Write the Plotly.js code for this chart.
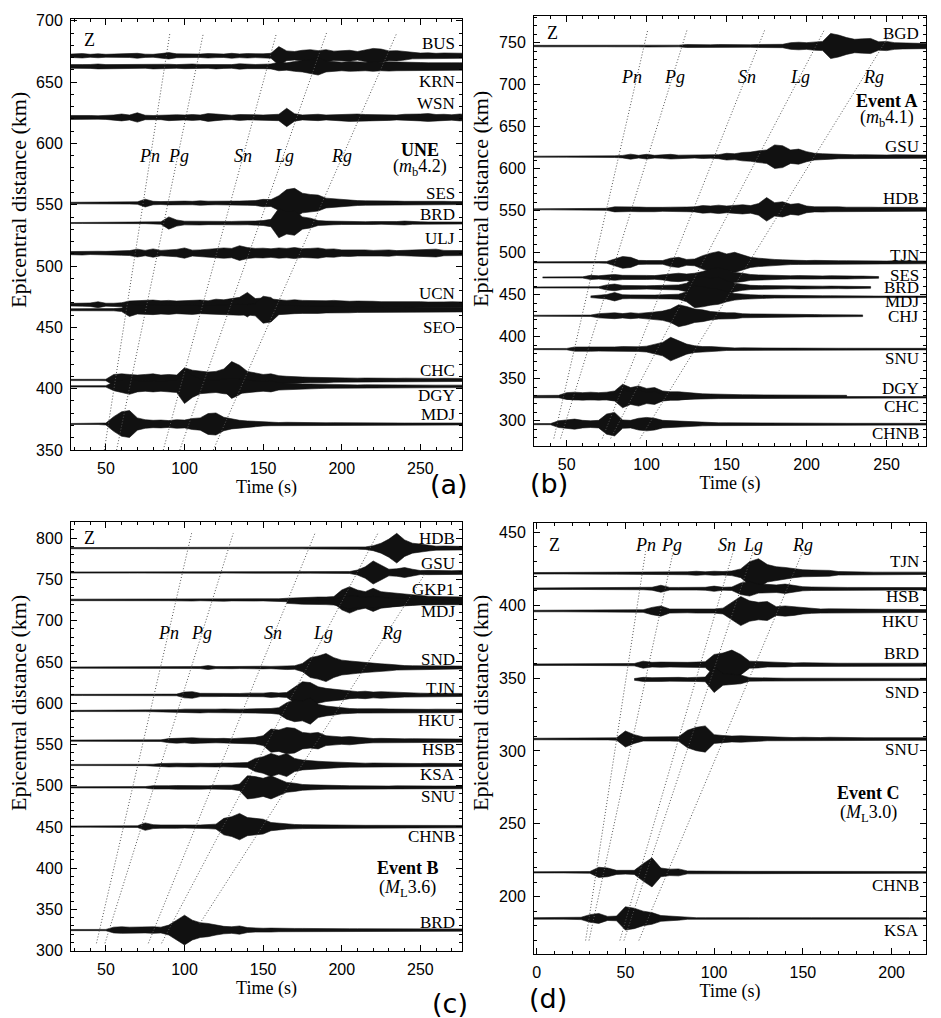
<!DOCTYPE html>
<html>
<head>
<meta charset="utf-8">
<script src="https://cdn.plot.ly/plotly-3.0.1.min.js"></script>
<style>
  body { margin: 0; background: #fff; }
  #plot { width: 941px; height: 1018px; }
</style>
</head>
<body>
<div id="plot"></div>
<script>
// envelopes are half-amplitudes in km, one value every 5 s from the trace start time
const STEP = 5;
const phases = ["Pn", "Pg", "Sn", "Lg", "Rg"];

// ---------- (a) UNE, mb 4.2 ----------
const staA = ["BUS", "KRN", "WSN", "SES", "BRD", "ULJ", "UCN", "SEO", "CHC", "DGY", "MDJ"];
const distA = [671.5, 662.8, 621.2, 551.4, 535.1, 510.6, 468.5, 464.4, 407.1, 401.9, 371.2];
const startA = [25, 25, 25, 25, 25, 25, 25, 25, 25, 25, 25];
const labelA = [681.3, 650.5, 632.3, 559.5, 541.8, 522.8, 478, 450.3, 415, 394.3, 378.8];
const envA_BUS = [1.2,1.5,1.8,1.2,1.6,1.2,1.3,1.2,1.4,2.0, 1.3,1.2,1.8,2.6,1.6,1.5,1.6,1.4,1.8,1.5, 1.4,2.0,1.5,1.8,1.5,1.6,2.0,7.5,4.0,3.5, 4.5,5.0,4.2,5.0,3.8,4.0,4.5,3.5,4.5,6.0, 5.5,4.0,4.2,3.5,2.5,2.2,2.4,2.0,2.3,2.2, 2.0,2.0];
const envA_KRN = [1.5,1.8,1.5,1.6,2.0,1.5,1.6,1.5,1.8,1.6, 1.5,2.0,1.6,1.8,1.5,1.8,2.0,1.6,1.5,2.0, 1.6,1.5,2.2,1.8,1.6,1.8,2.0,3.5,3.0,4.0, 4.5,5.5,7.0,4.5,4.0,3.5,4.0,3.8,3.5,4.0, 3.5,3.8,3.5,3.2,3.0,3.2,3.0,3.2,3.0,3.0, 3.0,3.0];
const envA_WSN = [1.6,1.8,1.5,1.6,1.4,1.6,2.0,2.8,2.0,3.8, 1.8,1.6,1.8,2.6,2.2,2.0,2.4,2.0,3.2,2.8, 2.0,1.8,2.4,2.0,2.2,2.0,2.4,2.6,7.5,3.0, 2.0,2.4,2.6,2.0,2.2,2.8,3.2,2.8,2.4,2.2, 2.6,2.4,2.0,2.6,2.4,2.8,3.2,2.4,2.6,2.2, 2.8,2.4];
const envA_SES = [0.6,0.6,0.7,0.6,0.7,0.6,0.7,0.7,0.8,1.0, 3.2,1.4,1.2,1.5,1.3,1.6,1.4,1.8,1.5,1.4, 1.8,1.5,1.6,1.8,2.0,3.0,2.8,6.0,11.0,12.0, 8.0,7.0,6.5,4.0,3.5,2.6,2.4,2.0,1.8,1.6, 1.8,1.5,1.6,1.4,1.5,1.6,1.4,1.8,1.4,1.3, 1.2,1.2];
const envA_BRD = [0.4,0.4,0.4,0.4,0.4,0.4,0.4,0.4,0.4,0.5, 0.5,0.5,1.0,5.0,2.5,1.5,1.4,1.6,1.3,1.5, 1.4,1.3,1.5,1.4,1.6,2.0,3.0,12.0,9.0,10.0, 5.0,4.0,2.0,1.6,1.4,1.2,1.3,1.2,1.1,1.2, 1.0,1.1,1.2,1.6,1.0,1.0,0.9,0.9,0.8,0.8, 0.8,0.8];
const envA_ULJ = [1.2,1.4,1.6,1.2,1.5,1.4,1.6,1.8,2.0,3.2, 2.2,3.4,2.2,2.6,3.0,4.2,2.4,2.6,3.2,3.8, 4.2,3.8,6.0,4.5,3.8,4.0,3.5,4.2,3.8,4.5, 3.6,3.8,4.2,3.2,3.4,2.6,2.8,2.4,2.6,2.2, 2.4,2.6,2.0,2.2,2.0,2.4,2.8,3.2,2.2,2.0, 2.2,2.0];
const envA_UCN = [1.0,1.0,1.2,1.4,2.4,1.2,1.2,1.6,3.0,3.2, 3.5,3.8,3.2,3.5,3.0,3.2,3.5,3.8,3.2,4.5, 4.0,5.0,6.0,10.0,5.0,5.5,4.5,4.0,3.5,4.0, 3.5,3.2,3.0,3.2,3.5,3.0,2.8,3.0,2.6,2.8, 2.5,2.6,2.5,2.8,2.4,2.5,2.2,2.5,2.3,2.4, 2.2,2.2];
const envA_SEO = [0.8,0.8,0.9,0.8,0.9,0.8,0.9,1.5,5.5,3.5, 3.8,4.0,3.5,3.8,3.2,3.5,3.8,3.2,3.5,4.0, 3.8,4.2,4.5,4.2,5.0,11.0,10.0,4.0,3.5,3.2, 3.0,2.8,3.0,2.6,2.8,2.4,2.5,2.2,2.4,2.2, 2.3,2.0,2.2,2.0,2.2,2.0,2.1,2.0,2.0,1.8, 1.8,1.8];
const envA_CHC = [0.5,0.5,0.5,0.5,0.5,0.6,4.5,5.0,4.5,4.0, 4.5,5.0,4.0,4.5,4.0,10.0,8.0,7.0,6.5,7.0, 9.0,15.0,12.0,7.0,5.5,4.5,5.0,3.5,3.0,2.5, 2.4,2.2,2.0,2.2,1.8,1.6,1.8,1.5,1.6,1.4, 1.5,1.6,1.4,1.5,1.3,1.4,1.5,1.3,1.4,1.2, 1.2,1.2];
const envA_DGY = [0.5,0.5,0.5,0.5,0.5,0.6,3.5,5.0,6.5,4.5, 4.0,4.5,4.0,4.5,5.0,14.0,9.0,6.0,5.5,5.0, 6.0,6.5,6.0,5.0,4.5,4.0,4.5,3.0,2.5,2.2, 2.0,2.0,1.8,1.6,1.5,1.4,1.4,1.2,1.3,1.2, 1.2,1.1,1.2,1.0,1.1,1.0,1.0,1.0,1.0,1.0, 1.0,1.0];
const envA_MDJ = [0.4,0.4,0.4,0.4,0.4,0.8,6.0,10.0,11.0,5.0, 3.5,3.0,3.2,2.8,3.5,3.2,4.5,5.0,8.5,9.0, 5.5,4.0,3.0,2.5,2.2,1.6,1.4,1.2,1.4,1.2, 1.2,1.3,1.0,1.0,1.1,1.0,1.0,0.9,0.9,1.0, 0.9,0.9,0.8,0.8,0.8,0.8,0.8,0.8,0.8,0.8, 0.8,0.8];
const envA = [envA_BUS, envA_KRN, envA_WSN, envA_SES, envA_BRD, envA_ULJ, envA_UCN, envA_SEO, envA_CHC, envA_DGY, envA_MDJ];
const phBotA = [49, 56.8, 86.5, 97, 118.3];
const phTopA = [90.7, 112, 158.5, 190.3, 235];
const phD0A = [350, 350, 350, 350, 350];
const phD1A = [690, 690, 690, 690, 690];
const phLabA = [78, 96, 137, 163, 200];

// ---------- (b) Event A, mb 4.1 ----------
const staB = ["BGD", "GSU", "HDB", "TJN", "SES", "BRD", "MDJ", "CHJ", "SNU", "DGY", "CHC", "CHNB"];
const distB = [746, 614.3, 551.6, 488.5, 470.6, 458.7, 447.6, 425, 385.3, 329.5, 328, 296];
const startB = [25, 25, 25, 25, 35, 25, 65, 25, 25, 25, 25, 25];
const labelB = [761.1, 627, 564.7, 497.2, 473.4, 458.7, 441.7, 423.8, 374.2, 338.5, 317.5, 285];
const envB_BGD = [0.8,0.8,1.0,0.8,1.0,0.8,0.9,1.0,0.8,1.0, 0.9,1.0,0.8,1.2,1.0,1.2,1.0,1.4,1.2,1.0, 1.8,1.4,1.6,1.4,1.8,1.5,1.8,1.6,1.5,1.8, 2.0,2.2,2.0,4.0,4.5,4.0,5.0,5.5,15.0,13.0, 10.0,8.0,8.5,9.0,5.0,5.5,4.0,3.5,3.0,3.2, 3.0,3.0];
const envB_GSU = [0.6,0.6,0.6,0.6,0.6,0.6,0.6,0.7,0.7,0.8, 0.8,1.0,1.5,3.0,1.6,2.8,1.6,2.0,2.8,1.8, 2.0,1.6,2.2,1.8,2.4,4.0,3.5,5.0,5.5,7.0, 8.0,14.0,13.0,8.0,9.0,6.0,4.0,3.5,3.0,2.4, 2.6,2.2,2.4,2.0,2.4,2.0,2.2,2.0,1.8,2.0, 1.8,1.8];
const envB_HDB = [0.6,0.6,0.6,0.6,0.6,0.6,0.7,0.7,0.8,1.0, 1.2,3.0,3.2,2.6,2.8,2.4,2.8,2.4,2.6,2.4, 2.8,3.0,4.5,4.0,5.0,4.0,5.0,5.5,4.5,7.0, 14.0,8.0,9.0,6.0,7.0,4.0,3.0,3.2,2.8,3.0, 2.6,2.8,2.4,2.6,2.4,2.8,2.4,2.4,2.2,2.4, 2.2,2.2];
const envB_TJN = [0.6,0.6,0.6,0.6,0.6,0.6,0.7,0.7,0.8,0.8, 1.0,4.0,7.0,6.0,2.4,2.2,2.6,2.2,5.0,6.0, 3.5,4.0,8.0,11.0,13.0,10.0,12.0,9.0,6.0,5.0, 4.0,3.5,3.0,2.6,2.4,2.2,2.4,2.0,2.2,2.0, 2.0,1.8,2.0,1.8,1.8,1.6,1.8,1.6,1.6,1.6, 1.6,1.6];
const envB_SES = [0.6,0.6,0.6,0.6,0.6,0.7,2.5,2.0, 2.8,3.5,2.5,2.2,2.6,2.4,2.2,3.0,4.5,5.0, 4.0,5.0,7.0,10.0,12.0,9.0,6.0,5.0,3.5,3.0, 2.6,2.4,2.2,2.0,2.2,1.8,2.0,1.8,2.0,1.6, 1.8,1.6,1.6,1.5,1.0];
const envB_BRD = [0.6,0.6,0.6,0.6,0.6,0.6,0.6,0.6,0.7,0.8, 3.0,4.0,2.4,2.0,2.2,2.0,2.2,2.4,2.6,3.0, 5.0,12.0,13.0,11.0,12.0,8.0,5.0,3.5,2.5,2.2, 2.0,1.8,1.8,1.6,1.8,1.6,1.6,1.5,1.6,1.4, 1.5,1.4,1.4,1.0];
const envB_MDJ = [1.0,2.0, 2.6,5.0,2.4,2.2,2.0,2.2,2.0,2.4,2.6,3.0, 6.0,13.0,12.0,10.0,9.0,6.0,4.0,3.0,2.4,2.0, 1.8,1.6,1.5,1.4,1.4,1.3,1.2,1.2,1.2,1.0, 1.0,1.0,0.9,0.9,0.8,0.8,0.8,0.8,0.8,0.8, 0.8,0.8];
const envB_CHJ = [0.6,0.6,0.6,0.6,0.6,0.6,0.6,0.7,0.8,2.5, 3.0,3.5,2.6,3.5,2.8,4.0,4.5,5.5,8.0,13.0, 11.0,8.0,7.0,5.0,4.0,3.5,3.5,2.4,2.2,2.0, 1.8,1.8,1.6,1.5,1.5,1.4,1.4,1.3,1.3,1.2, 1.2,1.2,1.0];
const envB_SNU = [0.6,0.6,0.6,0.6,0.6,0.8,2.5,2.4,2.6,2.4, 2.8,2.6,3.0,2.6,2.8,3.5,6.0,8.0,14.0,10.0, 6.0,4.0,3.0,3.0,2.4,1.6,1.4,1.5,1.3,1.4, 1.2,1.3,1.2,1.2,1.3,1.1,1.2,1.1,1.0,1.0, 1.0,1.0,1.0,1.0,0.9,0.9,0.9,0.9,0.9,0.9, 0.9,0.9];
const envB_DGY = [0.6,0.6,0.6,0.7,0.8,4.0,4.5,4.0,4.5,4.0, 4.5,6.0,14.0,10.0,12.0,9.0,10.0,6.0,5.0,5.0, 4.0,3.0,2.6,2.4,2.0,1.6,1.6,1.5,1.4,1.4, 1.3,1.2,1.3,1.2,1.2,1.1,1.2,1.0,1.0,1.0, 0.8];
const envB_CHC = [0.6,0.6,0.6,0.6,0.6,2.5,3.0,3.5,3.0,3.5, 3.0,4.0,8.0,7.0,8.0,6.0,7.0,4.0,3.0,3.0, 2.5,2.2,2.0,1.8,1.6,1.2,1.2,1.0,1.0,1.0, 1.0,1.0,1.0,1.0,1.0,1.0,0.9,0.9,0.9,0.9, 0.9,0.9,0.9,0.9,0.8,0.8,0.8,0.8,0.8,0.8, 0.8,0.8];
const envB_CHNB = [0.6,0.6,0.6,0.7,4.0,5.0,6.0,4.5,4.0,4.5, 12.0,14.0,5.0,4.5,7.0,8.0,7.0,4.5,4.0,3.5, 3.0,2.4,2.0,1.8,1.6,1.6,1.5,1.4,1.5,1.3, 1.4,1.3,1.2,1.2,1.2,1.1,1.1,1.1,1.0,1.0, 1.0,1.0,1.0,1.0,1.0,1.0,1.0,1.0,1.2,1.0, 1.0,1.0];
const envB = [envB_BGD, envB_GSU, envB_HDB, envB_TJN, envB_SES, envB_BRD, envB_MDJ, envB_CHJ, envB_SNU, envB_DGY, envB_CHC, envB_CHNB];
const phBotB = [42, 46.2, 72.3, 77.5, 95.9];
const phTopB = [100.8, 125.4, 174, 211.3, 252.4];
const phD0B = [279, 279, 279, 279, 279];
const phD1B = [766, 766, 766, 766, 761];
const phLabB = [90.6, 117.7, 163, 196, 241.7];

// ---------- (c) Event B, ML 3.6 ----------
const staC = ["HDB", "GSU", "GKP1", "MDJ", "SND", "TJN", "HKU", "HSB", "KSA", "SNU", "CHNB", "BRD"];
const distC = [787.9, 758.4, 725.2, 722.5, 643.2, 610, 590.6, 554.6, 525.1, 498, 450.4, 325];
const startC = [25, 25, 25, 165, 25, 25, 25, 25, 25, 25, 25, 25];
const labelC = [799.2, 769.7, 737.3, 711, 652.4, 618, 579.6, 544, 513, 486.7, 438.2, 334];
const envC_HDB = [0.7,0.7,0.8,0.7,0.8,0.7,0.8,0.7,0.8,0.7, 0.8,0.7,0.8,0.7,0.8,0.7,0.8,0.7,0.9,0.7, 0.8,0.7,0.8,0.7,0.8,0.7,0.8,0.7,0.8,0.9, 0.8,0.9,0.8,0.9,0.8,1.0,1.0,1.2,1.5,3.0, 6.0,11.0,18.0,10.0,6.0,5.0,3.5,2.4,2.6,2.0, 2.2,2.0];
const envC_GSU = [0.7,0.7,0.7,0.7,0.8,0.7,0.7,0.8,0.7,0.7, 0.8,0.7,0.8,0.7,0.7,0.8,0.7,0.8,0.7,0.8, 0.7,0.8,0.7,0.8,0.8,0.7,0.8,0.8,0.9,0.8, 0.9,0.8,0.9,0.9,1.0,1.0,1.2,3.0,7.0,14.0, 9.0,4.0,4.5,6.0,4.0,2.4,2.6,2.2,2.4,2.2, 2.4,2.2];
const envC_GKP1 = [0.9,0.9,1.0,0.9,0.9,1.0,0.9,1.0,0.9,1.0, 1.0,1.0,1.0,1.0,1.0,1.0,1.4,1.0,1.0,1.2, 1.6,1.2,1.2,1.2,1.4,1.2,1.4,1.4,2.0,2.5, 3.0,3.0,3.5,3.5,4.0,12.0,16.0,12.0,10.0,14.0, 10.0,9.0,8.0,7.0,6.0,5.0,4.5,4.0,4.0,3.5, 3.5,3.5];
const envC_MDJ = [1.5,2.0,2.5,2.5,3.0,3.0,3.5,6.0,8.0,7.0, 6.0,7.0,6.0,5.0,5.0,4.5,4.0,3.5,3.5,3.0, 3.0,3.0,3.0,3.0];
const envC_SND = [0.7,0.7,0.7,0.7,0.7,0.7,0.8,0.8,0.8,0.8, 0.8,0.9,0.8,0.9,0.8,1.0,1.0,1.2,2.4,1.2, 1.2,1.4,1.2,1.4,1.2,1.6,1.4,1.6,2.4,2.2, 5.0,12.0,14.0,17.0,12.0,9.0,8.0,7.0,6.0,5.0, 4.5,4.0,3.0,2.4,2.2,2.0,2.2,2.0,1.8,2.0, 1.8,1.8];
const envC_TJN = [0.7,0.7,0.7,0.7,0.7,0.7,0.7,0.8,0.8,0.8, 0.8,0.8,0.9,0.9,1.0,3.5,4.0,2.0,1.8,2.0, 1.8,2.0,1.8,2.2,2.0,2.2,3.0,2.4,3.0,10.0, 16.0,15.0,10.0,8.0,7.0,6.0,4.5,4.0,4.5,3.5, 4.0,3.5,3.0,2.6,2.4,2.2,2.0,2.0,2.0,1.8, 1.8,1.8];
const envC_HKU = [0.7,0.7,0.7,0.7,0.7,0.7,0.7,0.8,0.8,0.8, 0.8,0.9,0.9,1.0,1.5,2.2,2.0,2.4,2.0,2.2, 2.4,2.0,2.2,2.4,2.6,2.4,3.0,4.0,10.0,13.0, 12.0,16.0,8.0,6.0,5.0,3.5,3.0,2.6,2.8,2.4, 2.6,2.4,2.2,2.4,2.2,2.2,2.0,2.2,2.0,2.0, 2.0,2.0];
const envC_HSB = [0.7,0.7,0.7,0.7,0.7,0.7,0.7,0.8,0.8,0.8, 0.8,0.9,1.0,2.5,3.0,2.6,3.5,3.0,2.4,2.6, 2.8,2.4,3.0,3.5,4.0,6.0,14.0,13.0,16.0,15.0, 10.0,9.0,10.0,6.0,5.0,4.5,5.0,4.0,3.0,2.6, 2.8,2.4,2.6,2.2,2.4,2.2,2.0,2.2,2.0,2.0, 2.0,2.0];
const envC_KSA = [0.7,0.7,0.7,0.7,0.7,0.7,0.7,0.8,0.8,0.8, 0.8,0.9,1.8,2.4,2.2,2.0,2.4,2.2,2.0,2.4, 2.2,2.4,2.6,3.0,8.0,10.0,14.0,11.0,14.0,8.0, 6.0,5.0,4.5,4.0,3.5,3.0,2.6,2.4,2.2,2.4, 2.2,2.0,2.2,2.0,2.0,1.8,2.0,1.8,1.8,1.8, 1.8,1.8];
const envC_SNU = [0.7,0.7,0.7,0.7,0.7,0.7,0.7,0.8,0.8,0.8, 0.9,2.0,2.4,2.0,2.2,2.0,2.4,2.2,2.0,2.4, 2.2,2.6,4.0,14.0,13.0,11.0,14.0,10.0,6.0,5.0, 3.5,3.0,2.6,2.2,2.0,2.2,2.0,1.8,2.0,1.8, 1.8,1.6,1.8,1.6,1.6,1.6,1.6,1.6,1.6,1.6, 1.6,1.6];
const envC_CHNB = [0.7,0.7,0.7,0.7,0.7,0.7,0.7,0.8,0.8,1.0, 4.5,2.4,2.0,1.8,2.0,1.8,2.0,2.0,2.4,3.0, 10.0,12.0,16.0,11.0,10.0,9.0,5.0,4.0,3.0,2.6, 2.4,2.2,2.0,2.2,2.0,1.8,1.8,1.8,1.6,1.6, 1.6,1.6,1.4,1.4,1.4,1.4,1.4,1.4,1.4,1.4, 1.4,1.4];
const envC_BRD = [0.7,0.7,0.7,0.7,0.7,0.8,3.5,4.0,3.5,3.8, 3.5,4.0,3.5,6.0,12.0,18.0,12.0,9.0,8.0,6.0, 4.5,4.0,5.0,3.0,2.4,2.2,2.4,2.0,2.2,2.0, 2.0,1.8,1.8,1.8,1.6,1.6,1.6,1.6,1.6,1.4, 1.4,1.4,1.4,1.4,1.4,1.4,1.4,1.4,1.4,1.4, 1.4,1.4];
const envC = [envC_HDB, envC_GSU, envC_GKP1, envC_MDJ, envC_SND, envC_TJN, envC_HKU, envC_HSB, envC_KSA, envC_SNU, envC_CHNB, envC_BRD];
const phBotC = [44, 49.4, 77, 85.4, 109.8];
const phTopC = [104.5, 131, 183, 223, 253];
const phD0C = [309, 309, 309, 309, 333];
const phD1C = [806, 806, 806, 806, 757];
const phLabC = [89.6, 110.8, 156.4, 188.2, 231.7];

// ---------- (d) Event C, ML 3.0 ----------
const staD = ["TJN", "HSB", "HKU", "BRD", "SND", "SNU", "CHNB", "KSA"];
const distD = [421.9, 411.3, 396, 359.2, 349.1, 308.2, 216.7, 185.1];
const startD = [-5, -5, -5, -5, 55, -5, -5, -5];
const labelD = [429.9, 405.9, 388.7, 367, 340, 300.7, 208, 176.7];
const envD_TJN = [0.5,0.5,0.5,0.5,0.5,0.6,0.5,0.6,0.5,0.6, 0.6,0.6,0.6,0.8,0.8,0.7,0.8,0.9,1.0,1.4, 1.0,1.4,1.2,1.6,3.0,8.0,10.0,6.0,4.5,4.0, 3.0,2.4,2.2,2.0,2.0,1.2,1.0,0.9,0.9,0.8, 0.8,0.8,0.8,0.8,0.8,0.8];
const envD_HSB = [0.5,0.5,0.5,0.5,0.5,0.5,0.5,0.5,0.5,0.6, 0.6,0.6,0.6,0.7,1.0,2.4,0.9,0.9,0.8,0.9, 1.0,1.8,1.0,1.2,4.0,5.0,3.0,3.0,2.6,3.2, 2.4,1.4,1.2,1.0,1.0,1.0,0.9,0.9,0.9,0.8, 0.8,0.8,0.8,0.8,0.8,0.8];
const envD_HKU = [0.5,0.5,0.5,0.5,0.5,0.5,0.6,0.5,0.6,0.6, 0.6,0.7,0.8,0.9,2.5,3.5,1.4,1.4,1.2,1.4, 1.6,1.4,2.0,6.0,10.0,7.0,6.0,6.5,3.0,3.5, 3.0,2.0,1.6,1.4,1.5,1.4,1.2,1.3,1.2,1.2, 1.2,1.2,1.2,1.0,1.0,1.0];
const envD_BRD = [0.5,0.5,0.5,0.5,0.5,0.5,0.5,0.5,0.6,0.6, 0.6,0.7,0.8,2.4,1.6,1.8,1.6,1.8,1.6,1.8, 2.0,7.0,8.0,10.0,7.0,2.4,2.2,1.6,1.4,1.6, 1.2,1.4,1.2,1.2,1.2,1.0,1.0,1.0,1.0,1.0, 1.0,1.0,1.0,1.0,1.0,1.0];
const envD_SND = [0.6,1.4,1.2,1.4,1.2,1.4,1.2,1.4,1.6,9.0, 4.0,3.5,3.0,1.2,1.0,0.9,0.8,0.8,0.8,0.8, 0.7,0.7,0.7,0.7,0.7,0.7,0.7,0.7,0.7,0.7, 0.7,0.7,0.7,0.7];
const envD_SNU = [0.5,0.5,0.5,0.5,0.5,0.5,0.5,0.6,0.6,0.6, 0.8,5.5,3.0,1.4,1.4,1.2,1.4,1.6,6.0,8.0, 9.0,3.0,2.4,2.0,2.2,2.0,1.6,1.2,1.2,1.2, 1.0,1.2,1.0,1.0,1.2,1.0,1.0,1.0,0.9,0.9, 0.9,0.9,0.9,0.9,0.9,0.9];
const envD_CHNB = [0.4,0.4,0.4,0.4,0.4,0.4,0.4,0.6,3.5,3.0, 1.4,1.2,1.4,6.0,10.0,3.0,2.2,2.4,1.0,0.9, 0.8,0.8,0.7,0.8,0.7,0.7,0.7,0.7,0.7,0.7, 0.7,0.7,0.7,0.7,0.7,0.7,0.7,0.7,0.6,0.6, 0.6,0.6,0.6,0.6,0.6,0.6];
const envD_KSA = [0.5,0.5,0.5,0.5,0.5,0.5,0.8,2.6,3.4,1.4, 1.6,8.0,7.0,5.0,4.0,2.0,1.6,1.2,0.6,0.5, 0.5,0.6,0.5,0.5,0.6,0.5,0.5,0.6,0.5,0.5, 0.6,0.5,0.5,0.6,0.5,0.5,0.6,0.5,0.5,0.6, 0.5,0.5,0.6,0.5,0.5,0.5];
const envD = [envD_TJN, envD_HSB, envD_HKU, envD_BRD, envD_SND, envD_SNU, envD_CHNB, envD_KSA];
const phBotD = [27.6, 29.5, 46.9, 49.2, 57.6];
const phTopD = [61.4, 77, 110.8, 122, 150];
const phD0D = [170, 170, 170, 170, 170];
const phD1D = [437, 437, 437, 437, 437];
const phLabD = [61.4, 76, 107, 122, 150];

const SERIF = "Liberation Serif, Times New Roman, serif";
const SANS = "Liberation Sans, Arial, sans-serif";

const panels = [
  { xa: "x", ya: "y", sta: staA, dist: distA, start: startA, lab: labelA, env: envA,
    bot: phBotA, top: phTopA, d0: phD0A, d1: phD1A, phLab: phLabA, phY: 590,
    xr: [27.8, 276.5], yr: [350, 701.5], dom: [[0.07545, 0.49097], [0.55796, 0.98134]],
    z: [39.5, 684], ev: ["<b>UNE</b>", "(<i>m</i><sub>b</sub>4.2)"], evPos: [250, 595, 580] },
  { xa: "x2", ya: "y2", sta: staB, dist: distB, start: startB, lab: labelB, env: envB,
    bot: phBotB, top: phTopB, d0: phD0B, d1: phD1B, phLab: phLabB, phY: 708.7,
    xr: [29.6, 274.6], yr: [270, 781.7], dom: [[0.56748, 0.98406], [0.56189, 0.98428]],
    z: [41, 761], ev: ["<b>Event A</b>", "(<i>m</i><sub>b</sub>4.1)"], evPos: [250.4, 680, 660] },
  { xa: "x3", ya: "y3", sta: staC, dist: distC, start: startC, lab: labelC, env: envC,
    bot: phBotC, top: phTopC, d0: phD0C, d1: phD1C, phLab: phLabC, phY: 684.8,
    xr: [27.8, 276.5], yr: [300, 820], dom: [[0.07545, 0.49097], [0.06611, 0.48752]],
    z: [39.4, 800], ev: ["<b>Event B</b>", "(<i>M</i><sub>L</sub>3.6)"], evPos: [242, 400, 376] },
  { xa: "x4", ya: "y4", sta: staD, dist: distD, start: startD, lab: labelD, env: envD,
    bot: phBotD, top: phTopD, d0: phD0D, d1: phD1D, phLab: phLabD, phY: 441.3,
    xr: [-1.5, 219.4], yr: [160.7, 456.2], dom: [[0.56748, 0.98406], [0.06287, 0.48595]],
    z: [10, 441.3], ev: ["<b>Event C</b>", "(<i>M</i><sub>L</sub>3.0)"], evPos: [187, 271, 257] }
];

function envelope(t0, dist, amp, xa, ya) {
  let xs = [], up = [], lo = [];
  for (let i = 0; i < amp.length; i++) {
    xs.push(t0 + i * STEP);
    up.push(dist + amp[i]);
    lo.push(dist - amp[i]);
  }
  return {
    x: xs.concat(xs.slice().reverse()),
    y: up.concat(lo.reverse()),
    xaxis: xa, yaxis: ya,
    type: "scatter", mode: "lines", fill: "toself",
    fillcolor: "#111", line: { color: "#111", width: 0.6 },
    hoverinfo: "skip", showlegend: false
  };
}

let data = [];
let annotations = [];
let layout = {
  width: 941, height: 1018,
  margin: { l: 0, r: 0, t: 0, b: 0 },
  paper_bgcolor: "#fff", plot_bgcolor: "#fff",
  font: { family: SERIF, color: "#000" },
  showlegend: false
};

panels.forEach((p, k) => {
  // seismograms
  for (let i = 0; i < p.sta.length; i++) {
    data.push(envelope(p.start[i], p.dist[i], p.env[i], p.xa, p.ya));
  }
  // travel-time curves
  for (let j = 0; j < phases.length; j++) {
    data.push({
      x: [p.bot[j], p.top[j]], y: [p.d0[j], p.d1[j]],
      xaxis: p.xa, yaxis: p.ya, type: "scatter", mode: "lines",
      line: { color: "#555", width: 1, dash: "1px,2px" },
      hoverinfo: "skip", showlegend: false
    });
    annotations.push({
      xref: p.xa, yref: p.ya, x: p.phLab[j], y: p.phY,
      text: "<i>" + phases[j] + "</i>", showarrow: false,
      xanchor: "center", yanchor: "middle",
      font: { family: SERIF, size: 18 }
    });
  }
  // station names
  for (let i = 0; i < p.sta.length; i++) {
    annotations.push({
      xref: p.xa + " domain", yref: p.ya, x: 0.988, y: p.lab[i],
      xanchor: "right", yanchor: "middle", text: p.sta[i], showarrow: false,
      font: { family: SERIF, size: 17 }
    });
  }
  annotations.push({
    xref: p.xa, yref: p.ya, x: p.z[0], y: p.z[1], text: "Z",
    xanchor: "center", yanchor: "middle",
    showarrow: false, font: { family: SERIF, size: 18 }
  });
  annotations.push({
    xref: p.xa, yref: p.ya, x: p.evPos[0], y: p.evPos[1], text: p.ev[0],
    xanchor: "center", yanchor: "middle",
    showarrow: false, font: { family: SERIF, size: 18 }
  });
  annotations.push({
    xref: p.xa, yref: p.ya, x: p.evPos[0], y: p.evPos[2], text: p.ev[1],
    xanchor: "center", yanchor: "middle",
    showarrow: false, font: { family: SERIF, size: 18 }
  });

  let suffix = k === 0 ? "" : String(k + 1);
  let common = {
    showline: true, mirror: "ticks", linecolor: "#000", linewidth: 1,
    ticks: "inside", ticklen: 6, tickwidth: 1, tickcolor: "#000",
    tick0: 0, dtick: 50, showgrid: false, zeroline: false,
    minor: { ticks: "inside", ticklen: 3, tickwidth: 1, tickcolor: "#000", tick0: 0, dtick: 10, showgrid: false },
    tickfont: { family: SANS, size: 16, color: "#000" },
    ticklabelstandoff: 4
  };
  layout["xaxis" + suffix] = Object.assign({}, common, {
    domain: p.dom[0], range: p.xr, anchor: p.ya,
    title: { text: "Time (s)", font: { family: SERIF, size: 18 }, standoff: 2 }
  });
  layout["yaxis" + suffix] = Object.assign({}, common, {
    domain: p.dom[1], range: p.yr, anchor: p.xa
  });
});

// y titles and panel tags
const yTitleX = [0.0191, 0.5101, 0.0191, 0.5101];
const yTitleY = [0.8035, 0.8045, 0.3094, 0.3094];
const tags = ["(a)", "(b)", "(c)", "(d)"];
const tagX = [0.4772, 0.5834, 0.4782, 0.5824];
const tagY = [0.5236, 0.5255, 0.0147, 0.0196];
for (let k = 0; k < 4; k++) {
  annotations.push({
    xref: "paper", yref: "paper", x: yTitleX[k], y: yTitleY[k],
    xanchor: "center", yanchor: "middle",
    text: "Epicentral distance (km)", textangle: -90, showarrow: false,
    font: { family: SERIF, size: 22 }
  });
  annotations.push({
    xref: "paper", yref: "paper", x: tagX[k], y: tagY[k], text: tags[k],
    xanchor: "center", yanchor: "middle",
    showarrow: false, font: { family: "DejaVu Sans, sans-serif", size: 27 }
  });
}
layout.annotations = annotations;

Plotly.newPlot("plot", data, layout, { staticPlot: true });
</script>
</body>
</html>
